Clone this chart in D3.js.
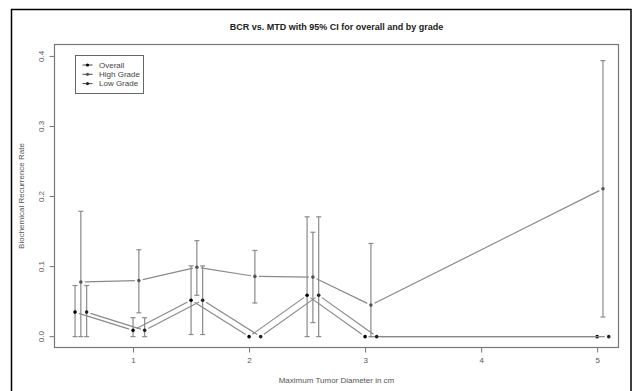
<!DOCTYPE html>
<html>
<head>
<meta charset="utf-8">
<script src="https://d3js.org/d3.v7.min.js"></script>
<style>
  body { margin: 0; background: #fff; }
  text { font-family: "Liberation Sans", Arial, sans-serif; }
</style>
</head>
<body>
<div id="chart"></div>
<script>
// tumour diameter groups (cm)
var mtd = [0.5, 1.0, 1.5, 2.0, 2.5, 3.0, 5.0];

// overall
var overallRate = [0.035, 0.009, 0.052, 0.0, 0.059, 0.0, 0.0];
var overallLow  = [0.0, 0.0, 0.003, 0.0, 0.0, 0.0, 0.0];
var overallHigh = [0.073, 0.027, 0.101, 0.0, 0.171, 0.0, 0.0];

// high grade
var highRate = [0.078, 0.080, 0.099, 0.086, 0.085, 0.045, 0.211];
var highLow  = [0.0, 0.034, 0.059, 0.048, 0.020, 0.0, 0.028];
var highHigh = [0.179, 0.124, 0.137, 0.123, 0.149, 0.133, 0.394];

// low grade
var lowRate = [0.035, 0.009, 0.052, 0.0, 0.059, 0.0, 0.0];
var lowLow  = [0.0, 0.0, 0.003, 0.0, 0.0, 0.0, 0.0];
var lowHigh = [0.073, 0.027, 0.101, 0.0, 0.171, 0.0, 0.0];

var seriesNames = ["Overall", "High Grade", "Low Grade"];
var xShift = [0, 0.05, 0.1];
var xTicks = [1, 2, 3, 4, 5];
var yTicks = [0.0, 0.1, 0.2, 0.3, 0.4];

var W = 633, H = 391;
var box = {left: 54.5, right: 618.5, top: 44.5, bottom: 347.5};
var pointColor = ["#000", "#555", "#222"];
var lineColor = "#8a8a8a";

var svg = d3.select("#chart").append("svg")
    .attr("width", W)
    .attr("height", H);

// outer frame
svg.append("rect")
    .attr("x", 11.5).attr("y", 9.5)
    .attr("width", 619.5).attr("height", 420)
    .attr("fill", "none")
    .attr("stroke", "#000")
    .attr("stroke-width", 1.5);

var x = d3.scaleLinear().domain([0.323, 5.184]).range([box.left, box.right]);
var y = d3.scaleLinear().domain([-0.0155, 0.417]).range([box.bottom, box.top]);

// title
svg.append("text")
    .attr("x", (box.left + box.right) / 2)
    .attr("y", 30)
    .attr("text-anchor", "middle")
    .style("font-size", "9px")
    .style("font-weight", "bold")
    .attr("fill", "#222")
    .text("BCR vs. MTD with 95% CI for overall and by grade");

// axes
var xAxis = d3.axisBottom(x).tickValues(xTicks).tickFormat(d3.format("d")).tickSize(5).tickPadding(5);
var yAxis = d3.axisLeft(y).tickValues(yTicks).tickFormat(d3.format(".1f")).tickSize(5).tickPadding(3);

var gx = svg.append("g")
    .attr("class", "x axis")
    .attr("transform", "translate(0," + box.bottom + ")")
    .call(xAxis);
gx.select(".domain").remove();
gx.selectAll("line").attr("stroke", "#777");
gx.selectAll("text").style("font-size", "8px").attr("fill", "#555");

var gy = svg.append("g")
    .attr("class", "y axis")
    .attr("transform", "translate(" + box.left + ",0)")
    .call(yAxis);
gy.select(".domain").remove();
gy.selectAll("line").attr("stroke", "#777");
gy.selectAll("text")
    .style("font-size", "8px")
    .attr("fill", "#555")
    .attr("x", null).attr("dy", null)
    .attr("text-anchor", "middle")
    .attr("transform", function(d) { return "translate(-11," + y(d) + ") rotate(-90)"; })
    .attr("y", 0);
gy.selectAll(".tick").attr("transform", null);
gy.selectAll(".tick line").attr("transform", function(d) { return "translate(0," + y(d) + ")"; });

// plot box
svg.append("rect")
    .attr("x", box.left).attr("y", box.top)
    .attr("width", box.right - box.left).attr("height", box.bottom - box.top)
    .attr("fill", "none")
    .attr("stroke", "#777")
    .attr("stroke-width", 1.2);

// axis titles
svg.append("text")
    .attr("x", (box.left + box.right) / 2)
    .attr("y", 383)
    .attr("text-anchor", "middle")
    .style("font-size", "8px")
    .attr("fill", "#555")
    .text("Maximum Tumor Diameter in cm");

svg.append("text")
    .attr("transform", "translate(24," + ((box.top + box.bottom) / 2) + ") rotate(-90)")
    .attr("text-anchor", "middle")
    .style("font-size", "8px")
    .attr("fill", "#555")
    .text("Biochemical Recurrence Rate");

var series = [
    {rate: overallRate, lo: overallLow, hi: overallHigh},
    {rate: highRate, lo: highLow, hi: highHigh},
    {rate: lowRate, lo: lowLow, hi: lowHigh}
].map(function(s, k) {
    s.name = seriesNames[k];
    s.pts = mtd.map(function(m, i) {
        return {x: m + xShift[k], y: s.rate[i], lo: s.lo[i], hi: s.hi[i]};
    });
    s.color = pointColor[k];
    return s;
});

var gap = 4;
var plot = svg.append("g").attr("class", "plot");

series.forEach(function(s) {
    // lines with gaps at points, like R type = "b"
    for (var i = 0; i < s.pts.length - 1; i++) {
        var x0 = x(s.pts[i].x), y0 = y(s.pts[i].y);
        var x1 = x(s.pts[i + 1].x), y1 = y(s.pts[i + 1].y);
        var len = Math.sqrt((x1 - x0) * (x1 - x0) + (y1 - y0) * (y1 - y0));
        var ux = (x1 - x0) / len, uy = (y1 - y0) / len;
        plot.append("line")
            .attr("x1", x0 + ux * gap).attr("y1", y0 + uy * gap)
            .attr("x2", x1 - ux * gap).attr("y2", y1 - uy * gap)
            .attr("stroke", lineColor)
            .attr("stroke-width", 1.2);
    }

    // error bars
    var eb = plot.append("g").selectAll("g")
        .data(s.pts.filter(function(d) { return d.hi - d.lo > 0.0001; }))
        .enter().append("g");
    eb.append("line")
        .attr("x1", function(d) { return x(d.x); })
        .attr("x2", function(d) { return x(d.x); })
        .attr("y1", function(d) { return y(d.lo); })
        .attr("y2", function(d) { return y(d.hi); })
        .attr("stroke", lineColor).attr("stroke-width", 1.2);
    ["lo", "hi"].forEach(function(key) {
        eb.append("line")
            .attr("x1", function(d) { return x(d.x) - 2.5; })
            .attr("x2", function(d) { return x(d.x) + 2.5; })
            .attr("y1", function(d) { return y(d[key]); })
            .attr("y2", function(d) { return y(d[key]); })
            .attr("stroke", lineColor).attr("stroke-width", 1.2);
    });

    plot.append("g").selectAll("circle")
        .data(s.pts)
        .enter().append("circle")
        .attr("cx", function(d) { return x(d.x); })
        .attr("cy", function(d) { return y(d.y); })
        .attr("r", 1.8)
        .attr("fill", s.color);
});

// legend
var legend = svg.append("g").attr("class", "legend");
legend.append("rect")
    .attr("x", 75.5).attr("y", 55.5)
    .attr("width", 68).attr("height", 38)
    .attr("fill", "#fff")
    .attr("stroke", "#666")
    .attr("stroke-width", 1);
series.forEach(function(s, k) {
    var ly = 65 + k * 9.3;
    legend.append("line")
        .attr("x1", 82.5).attr("x2", 92.5)
        .attr("y1", ly).attr("y2", ly)
        .attr("stroke", "#444").attr("stroke-width", 1);
    legend.append("circle")
        .attr("cx", 87.5).attr("cy", ly).attr("r", 1.6)
        .attr("fill", s.color);
    legend.append("text")
        .attr("x", 99).attr("y", ly + 2.8)
        .style("font-size", "8px")
        .attr("fill", "#444")
        .text(s.name);
});
</script>
</body>
</html>
